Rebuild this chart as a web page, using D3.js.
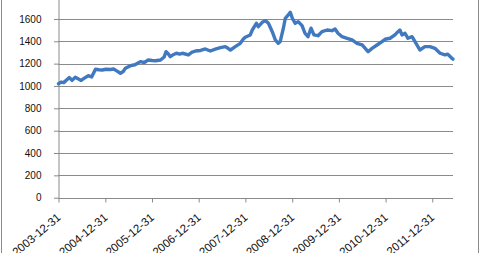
<!DOCTYPE html>
<html><head><meta charset="utf-8">
<script src="https://cdn.jsdelivr.net/npm/d3@7"></script>
<style>html,body{margin:0;padding:0;background:#fff;overflow:hidden}</style>
</head><body>
<svg id="c" width="481" height="253"></svg>
<script>
const dates = ["2003-12-31","2004-01-20","2004-02-10","2004-03-05","2004-03-25","2004-04-15","2004-05-10","2004-06-01","2004-06-25","2004-07-20","2004-08-20","2004-09-15","2004-10-15","2004-11-10","2004-12-07","2005-01-05","2005-02-10","2005-03-06","2005-03-30","2005-04-28","2005-05-20","2005-06-06","2005-07-16","2005-08-20","2005-10-01","2005-11-01","2005-12-02","2006-01-01","2006-01-27","2006-03-08","2006-04-05","2006-04-20","2006-05-05","2006-05-23","2006-06-15","2006-07-09","2006-08-05","2006-08-26","2006-10-12","2006-11-05","2006-12-06","2007-01-15","2007-02-21","2007-04-01","2007-05-10","2007-06-18","2007-07-27","2007-08-20","2007-09-05","2007-10-13","2007-11-21","2007-12-15","2007-12-30","2008-02-07","2008-02-23","2008-03-10","2008-03-26","2008-04-10","2008-05-11","2008-06-04","2008-06-28","2008-07-28","2008-08-21","2008-09-13","2008-09-28","2008-10-23","2008-11-07","2008-11-30","2008-12-16","2009-01-01","2009-01-24","2009-02-16","2009-03-18","2009-04-10","2009-05-03","2009-05-27","2009-06-19","2009-07-21","2009-08-21","2009-09-30","2009-11-07","2009-12-01","2009-12-24","2010-01-25","2010-03-05","2010-04-13","2010-05-21","2010-07-01","2010-08-16","2010-09-16","2010-10-25","2010-12-03","2010-12-27","2011-02-04","2011-03-14","2011-04-07","2011-04-22","2011-05-08","2011-06-01","2011-06-24","2011-07-26","2011-08-18","2011-09-25","2011-11-03","2011-12-12","2012-01-21","2012-03-01","2012-04-08","2012-04-30","2012-06-01","2012-06-10"];
const values = [1020,1035,1030,1055,1075,1050,1078,1065,1050,1070,1092,1080,1150,1145,1143,1150,1148,1152,1135,1114,1130,1158,1182,1190,1218,1210,1233,1228,1226,1233,1260,1307,1290,1262,1280,1293,1285,1293,1278,1300,1313,1318,1331,1313,1330,1343,1352,1335,1322,1352,1382,1420,1436,1457,1501,1531,1561,1531,1570,1585,1561,1486,1412,1382,1397,1517,1606,1636,1660,1606,1561,1576,1540,1472,1441,1517,1457,1450,1486,1501,1495,1510,1472,1441,1427,1412,1382,1367,1307,1337,1367,1397,1418,1427,1457,1486,1501,1457,1472,1427,1441,1397,1322,1352,1352,1337,1293,1278,1285,1248,1240];
const yTicks = [0,200,400,600,800,1000,1200,1400,1600,1800];
const xTickLabels = ["2003-12-31","2004-12-31","2005-12-31","2006-12-31","2007-12-31","2008-12-31","2009-12-31","2010-12-31","2011-12-31"];

const parse = d3.timeParse("%Y-%m-%d");
const data = dates.map((d,i)=>({date:parse(d), value:values[i]}));
const svg = d3.select("#c");
const left = 58.5, right = 453, y0 = 197.7, yTop = -3.4;
const x = d3.scaleTime().domain([parse("2003-12-31"), parse("2012-06-10")]).range([left, right]);
const y = d3.scaleLinear().domain([0,1800]).range([y0, yTop]);

// outer border
svg.append("line").attr("x1",1.5).attr("x2",1.5).attr("y1",-5).attr("y2",260).attr("stroke","#8a8a8a");
svg.append("line").attr("x1",478.5).attr("x2",478.5).attr("y1",-5).attr("y2",260).attr("stroke","#8a8a8a");

// gridlines
svg.append("g").selectAll("line").data(yTicks.filter(t=>t>0)).join("line")
  .attr("x1",left).attr("x2",right)
  .attr("y1",d=>Math.round(y(d))+0.5).attr("y2",d=>Math.round(y(d))+0.5)
  .attr("stroke","#8a8a8a").attr("stroke-width",1);

// y axis
const yAxis = svg.append("g").attr("transform",`translate(${left},0)`)
  .call(d3.axisLeft(y).tickValues(yTicks).tickSize(5).tickPadding(12).tickFormat(d3.format("d")));
yAxis.selectAll("path,line").attr("stroke","#8a8a8a");
yAxis.select(".domain").attr("d",`M0.5,${y(1800)}V${Math.round(y0)+0.5}`);
yAxis.selectAll(".tick line").attr("transform","translate(0.5,0)");
yAxis.selectAll("text").attr("font-family","Liberation Sans, Arial, sans-serif").attr("font-size","10px").attr("fill","#111");

// x axis
const tickDates = xTickLabels.map(parse);
const xAxis = svg.append("g").attr("transform",`translate(0,${Math.round(y0)+0.5})`)
  .call(d3.axisBottom(x).tickValues(tickDates).tickSize(4).tickFormat(""));
xAxis.selectAll("path,line").attr("stroke","#8a8a8a");
xAxis.select(".domain").attr("d",`M${left},0H${right}`);
svg.append("g").selectAll("text").data(tickDates).join("text")
  .attr("transform",(d,i)=>`translate(${x(d)+3},${y0+21}) rotate(-40)`)
  .attr("text-anchor","end")
  .attr("font-family","Liberation Sans, Arial, sans-serif").attr("font-size","11.5px").attr("fill","#111")
  .text((d,i)=>xTickLabels[i]);

// line
const line = d3.line().x(d=>x(d.date)).y(d=>y(d.value)).curve(d3.curveLinear);
svg.append("path").datum(data).attr("d",line)
  .attr("fill","none").attr("stroke","#4079c0").attr("stroke-width",3.4)
  .attr("stroke-linejoin","round").attr("stroke-linecap","round");
</script>
</body></html>
